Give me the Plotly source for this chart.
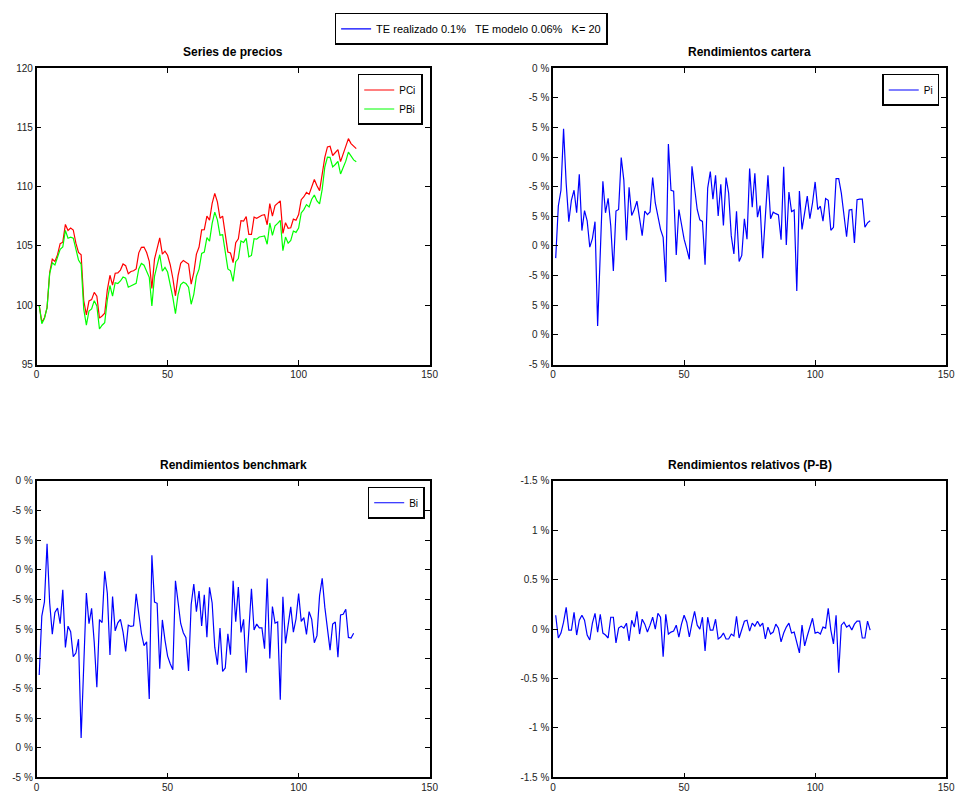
import plotly.graph_objects as go

# ---------------- data ----------------
# price series (x = 1..122)
PCi = [100.00, 98.59, 98.94, 99.81, 102.75, 103.89, 103.70, 104.27, 105.19, 105.32,
       106.82, 106.31, 106.51, 106.35, 105.24, 104.45, 104.26, 100.40, 99.19, 100.36,
       100.48, 101.09, 100.77, 98.92, 99.10, 99.33, 101.30, 102.53, 101.70, 102.70,
       102.73, 102.97, 103.49, 103.34, 102.67, 102.85, 102.91, 103.07, 104.42, 104.89,
       104.91, 104.45, 103.71, 101.42, 103.89, 104.80, 105.69, 104.32, 104.56, 104.22,
       103.42, 102.28, 100.80, 102.50, 103.54, 103.78, 103.66, 103.48, 101.79, 102.76,
       104.31, 104.91, 106.36, 106.37, 107.52, 107.18, 108.59, 109.44, 108.72, 107.34,
       107.52, 105.89, 104.49, 104.41, 103.60, 105.27, 105.60, 107.13, 107.10, 107.48,
       105.97, 105.97, 107.43, 107.34, 107.49, 107.59, 107.64, 106.79, 108.57, 107.52,
       108.40, 108.57, 108.80, 106.06, 106.96, 106.49, 106.54, 107.26, 107.17, 107.65,
       108.90, 109.15, 109.52, 109.35, 110.01, 110.60, 110.08, 109.67, 111.06, 112.47,
       113.35, 113.41, 112.63, 112.87, 113.13, 112.11, 112.74, 113.39, 114.05, 113.63,
       113.38, 113.21]
PBi = [100.00, 98.45, 98.89, 99.80, 102.67, 103.58, 103.40, 103.98, 104.72, 104.91,
       106.31, 105.65, 105.75, 105.66, 104.67, 103.82, 103.47, 99.67, 98.32, 99.52,
       99.70, 100.39, 99.95, 98.00, 98.32, 98.54, 100.46, 101.67, 100.78, 101.90,
       101.84, 102.05, 102.38, 102.29, 101.52, 101.65, 101.74, 101.85, 103.06, 103.53,
       103.38, 102.80, 102.36, 99.95, 102.44, 103.36, 104.26, 102.87, 103.19, 102.80,
       101.87, 100.67, 99.30, 100.91, 101.75, 101.94, 101.83, 101.52, 100.09, 100.92,
       102.45, 103.05, 104.37, 104.49, 105.70, 105.41, 106.91, 107.85, 107.20, 105.91,
       105.95, 104.44, 103.07, 102.91, 102.01, 103.68, 103.94, 105.42, 105.30, 105.64,
       104.09, 104.20, 105.61, 105.58, 105.76, 105.80, 105.84, 105.15, 106.94, 105.89,
       106.69, 106.90, 107.16, 104.61, 105.75, 105.24, 105.47, 106.26, 106.15, 106.51,
       107.79, 108.07, 108.49, 108.30, 108.94, 109.29, 108.79, 108.55, 109.77, 111.66,
       112.49, 112.47, 111.67, 111.87, 112.13, 111.07, 111.60, 112.15, 112.91, 112.60,
       112.26, 112.10]

# returns in % (x = 1..121)
Pi = [-1.41, 0.35, 0.88, 2.95, 1.11, -0.18, 0.55, 0.88, 0.12, 1.42,
      -0.48, 0.19, -0.15, -1.04, -0.75, -0.18, -3.70, -1.21, 1.18, 0.12,
      0.61, -0.32, -1.84, 0.18, 0.23, 1.98, 1.22, -0.81, 0.98, 0.03,
      0.23, 0.51, -0.15, -0.65, 0.18, 0.06, 0.15, 1.31, 0.45, 0.02,
      -0.44, -0.71, -2.21, 2.44, 0.88, 0.85, -1.30, 0.23, -0.32, -0.77,
      -1.10, -1.45, 1.69, 1.01, 0.23, -0.12, -0.17, -1.63, 0.95, 1.51,
      0.58, 1.38, 0.01, 1.08, -0.31, 1.31, 0.78, -0.66, -1.27, 0.17,
      -1.52, -1.32, -0.08, -0.77, 1.61, 0.31, 1.45, -0.03, 0.36, -1.41,
      0.00, 1.38, -0.08, 0.14, 0.09, 0.05, -0.79, 1.67, -0.97, 0.82,
      0.16, 0.21, -2.52, 0.85, -0.44, 0.05, 0.68, -0.08, 0.45, 1.16,
      0.23, 0.34, -0.16, 0.60, 0.54, -0.47, -0.37, 1.27, 1.27, 0.78,
      0.05, -0.69, 0.21, 0.23, -0.90, 0.56, 0.58, 0.58, -0.37, -0.22,
      -0.15]
Bi = [-1.55, 0.44, 0.92, 2.88, 0.89, -0.17, 0.56, 0.71, 0.18, 1.33,
      -0.62, 0.10, -0.09, -0.93, -0.81, -0.34, -3.67, -1.36, 1.22, 0.18,
      0.70, -0.44, -1.96, 0.32, 0.22, 1.95, 1.21, -0.87, 1.10, -0.06,
      0.21, 0.33, -0.10, -0.75, 0.13, 0.09, 0.11, 1.19, 0.45, -0.14,
      -0.56, -0.43, -2.36, 2.49, 0.91, 0.87, -1.34, 0.31, -0.37, -0.91,
      -1.17, -1.37, 1.63, 0.83, 0.19, -0.12, -0.29, -1.41, 0.83, 1.52,
      0.59, 1.28, 0.11, 1.16, -0.27, 1.41, 0.88, -0.61, -1.20, 0.04,
      -1.43, -1.31, -0.16, -0.86, 1.63, 0.25, 1.42, -0.11, 0.33, -1.47,
      0.10, 1.36, -0.03, 0.17, 0.04, 0.04, -0.66, 1.71, -0.99, 0.76,
      0.20, 0.24, -2.38, 1.09, -0.48, 0.22, 0.75, -0.10, 0.34, 1.20,
      0.26, 0.39, -0.18, 0.59, 0.33, -0.46, -0.22, 1.13, 1.71, 0.74,
      -0.02, -0.71, 0.17, 0.24, -0.95, 0.48, 0.50, 0.67, -0.28, -0.30,
      -0.14]
Rel = [0.14, -0.09, -0.04, 0.07, 0.22, -0.01, -0.01, 0.17, -0.06, 0.09,
       0.14, 0.09, -0.06, -0.11, 0.06, 0.16, -0.03, 0.15, -0.04, -0.06,
       -0.09, 0.12, 0.12, -0.14, 0.01, 0.03, 0.01, 0.06, -0.12, 0.09,
       0.02, 0.18, -0.05, 0.10, 0.05, -0.03, 0.04, 0.12, 0.00, 0.16,
       0.12, -0.28, 0.15, -0.05, -0.03, -0.02, 0.04, -0.08, 0.05, 0.14,
       0.07, -0.08, 0.06, 0.18, 0.04, 0.00, 0.12, -0.22, 0.12, -0.01,
       -0.01, 0.10, -0.10, -0.08, -0.04, -0.10, -0.10, -0.05, -0.07, 0.13,
       -0.09, -0.01, 0.08, 0.09, -0.02, 0.06, 0.03, 0.08, 0.03, 0.06,
       -0.10, 0.02, -0.05, -0.03, 0.05, 0.01, -0.13, -0.04, 0.02, 0.06,
       -0.04, -0.03, -0.14, -0.24, 0.04, -0.17, -0.07, 0.02, 0.11, -0.04,
       -0.03, -0.05, 0.02, 0.01, 0.21, -0.01, -0.15, 0.14, -0.44, 0.04,
       0.07, 0.02, 0.04, -0.01, 0.05, 0.08, 0.08, -0.09, -0.09, 0.08,
       -0.01]

x_prices = list(range(1, len(PCi) + 1))
x_ret = list(range(1, len(Pi) + 1))

x_ticks = [0, 50, 100, 150]
price_ticks = [95, 100, 105, 110, 115, 120]
ret_tickvals = [5, 4, 3, 2, 1, 0, -1, -2, -3, -4, -5]
ret_ticktext = ["0 %", "-5 %", "5 %", "0 %", "-5 %", "5 %", "0 %", "-5 %", "5 %", "0 %", "-5 %"]
rel_tickvals = [1.5, 1, 0.5, 0, -0.5, -1, -1.5]
rel_ticktext = ["-1.5 %", "1 %", "0.5 %", "0 %", "-0.5 %", "-1 %", "-1.5 %"]

titles = ["Series de precios", "Rendimientos cartera",
          "Rendimientos benchmark", "Rendimientos relativos (P-B)"]
top_legend_text = "TE realizado 0.1%   TE modelo 0.06%   K= 20"

# ---------------- figure ----------------
W, H = 967, 808
FONT = "Liberation Sans, Arial, sans-serif"

fig = go.Figure()

# dummy trace for the figure-level legend
fig.add_trace(go.Scatter(x=[None], y=[None], mode="lines", name=top_legend_text,
                         line=dict(color="#0000ff", width=1.2), legend="legend",
                         xaxis="x", yaxis="y", hoverinfo="skip"))

fig.add_trace(go.Scatter(x=x_prices, y=PCi, mode="lines", name="PCi",
                         line=dict(color="#ff0000", width=1.2), legend="legend2",
                         xaxis="x", yaxis="y"))
fig.add_trace(go.Scatter(x=x_prices, y=PBi, mode="lines", name="PBi",
                         line=dict(color="#00ff00", width=1.2), legend="legend2",
                         xaxis="x", yaxis="y"))
fig.add_trace(go.Scatter(x=x_ret, y=Pi, mode="lines", name="Pi",
                         line=dict(color="#0000ff", width=1.2), legend="legend3",
                         xaxis="x2", yaxis="y2"))
fig.add_trace(go.Scatter(x=x_ret, y=Bi, mode="lines", name="Bi",
                         line=dict(color="#0000ff", width=1.2), legend="legend4",
                         xaxis="x3", yaxis="y3"))
fig.add_trace(go.Scatter(x=x_ret, y=Rel, mode="lines", name="P-B",
                         line=dict(color="#0000ff", width=1.2), showlegend=False,
                         xaxis="x4", yaxis="y4"))

def px_dom(a, b, total):
    return [a / total, b / total]

def py_dom(top, bottom):
    return [1 - bottom / H, 1 - top / H]

xd_left = px_dom(34, 432, W)
xd_right = px_dom(557, 955, W)
yd_top = py_dom(63, 364)
yd_bot = py_dom(482, 783)

axis_common = dict(showline=True, linecolor="black", linewidth=1.5, mirror="allticks",
                   ticks="inside", ticklen=5, tickcolor="black", showgrid=False,
                   zeroline=False, tickfont=dict(family=FONT, size=10, color="#222222"))

def xax(domain, anchor):
    d = dict(axis_common)
    d.update(domain=domain, anchor=anchor, range=[0, 150], tickvals=x_ticks,
             ticktext=[str(v) for v in x_ticks])
    return d

def yax(domain, anchor, rng, tv, tt):
    d = dict(axis_common)
    d.update(domain=domain, anchor=anchor, range=rng, tickvals=tv, ticktext=tt)
    return d

legend_common = dict(bgcolor="white", bordercolor="black", borderwidth=1.5,
                     font=dict(family=FONT, size=10, color="black"),
                     itemclick=False, itemdoubleclick=False, tracegroupgap=0)

annotations = []
title_pos = [((34 + 432) / 2, 47), ((557 + 955) / 2, 47),
             ((34 + 432) / 2, 466), ((557 + 955) / 2, 466)]
for t, (cx, cy) in zip(titles, title_pos):
    annotations.append(dict(text="<b>" + t + "</b>", x=cx / W, y=1 - cy / H,
                            xref="paper", yref="paper", xanchor="center",
                            yanchor="middle", showarrow=False,
                            font=dict(family=FONT, size=12, color="black")))

top_legend = dict(legend_common, x=474 / W, y=1 - 7 / H, xanchor="center", yanchor="top")
top_legend["font"] = dict(family=FONT, size=11, color="black")

fig.update_layout(
    width=W, height=H,
    margin=dict(l=0, r=0, t=0, b=0),
    paper_bgcolor="white", plot_bgcolor="white",
    font=dict(family=FONT, size=10, color="black"),
    xaxis=xax(xd_left, "y"),
    yaxis=yax(yd_top, "x", [95, 120], price_ticks, [str(v) for v in price_ticks]),
    xaxis2=xax(xd_right, "y2"),
    yaxis2=yax(yd_top, "x2", [-5, 5], ret_tickvals, ret_ticktext),
    xaxis3=xax(xd_left, "y3"),
    yaxis3=yax(yd_bot, "x3", [-5, 5], ret_tickvals, ret_ticktext),
    xaxis4=xax(xd_right, "y4"),
    yaxis4=yax(yd_bot, "x4", [-1.5, 1.5], rel_tickvals, rel_ticktext),
    legend=top_legend,
    legend2=dict(legend_common, x=425 / W, y=1 - 69 / H, xanchor="right", yanchor="top"),
    legend3=dict(legend_common, x=948 / W, y=1 - 69 / H, xanchor="right", yanchor="top"),
    legend4=dict(legend_common, x=427 / W, y=1 - 488 / H, xanchor="right", yanchor="top"),
    annotations=annotations,
    showlegend=True,
)

fig.write_html("out.html")
